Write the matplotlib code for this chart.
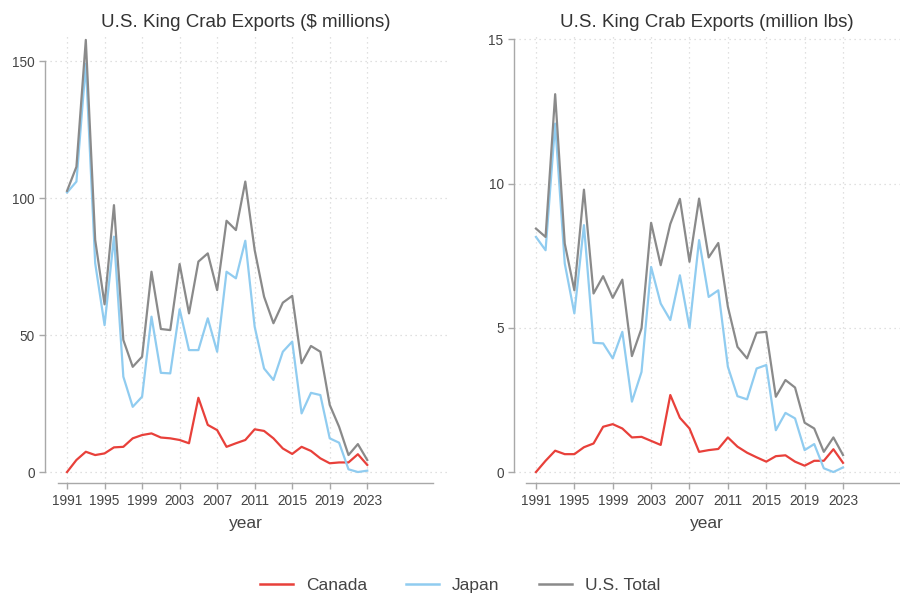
import matplotlib
matplotlib.use("Agg")
import matplotlib.pyplot as plt
from matplotlib.lines import Line2D

plt.rcParams['font.family'] = ['Liberation Sans', 'DejaVu Sans']

years = list(range(1991, 2024))

# Export values in $ millions
value_canada = [0, 4.4, 7.4, 6.2, 6.8, 9.0, 9.2, 12.3, 13.5, 14.1, 12.6, 12.3, 11.7,
                10.5, 27.1, 17.2, 15.3, 9.2, 10.5, 11.7, 15.6, 15.0, 12.3, 8.6, 6.6,
                9.2, 7.7, 5.0, 3.2, 3.5, 3.5, 6.5, 2.6]
value_japan = [102, 106, 149, 76.2, 53.6, 85.9, 34.8, 23.8, 27.5, 56.7, 36.2, 36.0, 59.4,
               44.5, 44.5, 56.1, 43.9, 73.1, 70.7, 84.4, 53.0, 37.8, 33.6, 43.9, 47.6,
               21.4, 28.9, 28.1, 12.3, 10.7, 1.0, 0.0, 0.5]
value_total = [102.6, 111.4, 157.7, 84.7, 61.2, 97.4, 48.2, 38.4, 42.1, 73.1, 52.2, 51.8,
               75.9, 57.9, 76.8, 79.8, 66.4, 91.7, 88.3, 106, 81, 64, 54.3, 61.8, 64.3,
               39.7, 46, 43.9, 24.5, 16.5, 6.2, 10.2, 4.4]

# Export volumes in million lbs
lbs_canada = [0, 0.39, 0.74, 0.62, 0.62, 0.86, 0.99, 1.57, 1.66, 1.51, 1.2, 1.22, 1.08,
              0.94, 2.67, 1.88, 1.51, 0.70, 0.76, 0.80, 1.2, 0.88, 0.67, 0.51, 0.36,
              0.55, 0.58, 0.36, 0.22, 0.39, 0.39, 0.79, 0.32]
lbs_japan = [8.15, 7.69, 12.08, 7.23, 5.5, 8.56, 4.48, 4.46, 3.94, 4.86, 2.44, 3.47, 7.11,
             5.84, 5.27, 6.82, 5.0, 8.04, 6.07, 6.3, 3.65, 2.63, 2.52, 3.59, 3.71,
             1.45, 2.05, 1.86, 0.76, 0.97, 0.13, 0.0, 0.16]
lbs_total = [8.44, 8.15, 13.1, 7.92, 6.3, 9.79, 6.19, 6.79, 6.04, 6.67, 4.02, 4.98, 8.64,
             7.17, 8.6, 9.47, 7.29, 9.48, 7.44, 7.94, 5.73, 4.34, 3.94, 4.83, 4.86,
             2.61, 3.19, 2.93, 1.71, 1.51, 0.70, 1.2, 0.59]

xticks = list(range(1991, 2024, 4))
series_names = ["Canada", "Japan", "U.S. Total"]
colors = ["#e8403a", "#90ccf0", "#8a8a8a"]
text_color = "#444444"
axis_color = "#a8a8a8"
grid_color = "#d6d6d6"

W, H = 900, 598
fig = plt.figure(figsize=(W / 100, H / 100), dpi=100)


def make_panel(rect, xlim, ylim, yticks, title, data):
    ax = fig.add_axes(rect)
    for vals, c in zip(data, colors):
        ax.plot(years, vals, color=c, lw=1.6, solid_joinstyle="round")
    ax.set_xlim(*xlim)
    ax.set_ylim(*ylim)
    ax.set_xticks(xticks)
    ax.set_yticks(yticks)
    ax.set_yticklabels([str(t) for t in yticks])
    ax.grid(True, ls=(0, (1, 3)), color=grid_color, lw=0.9)
    ax.set_axisbelow(True)
    for s in ("top", "right"):
        ax.spines[s].set_visible(False)
    ax.spines["left"].set_bounds(yticks[0], yticks[-1])
    ax.spines["bottom"].set_bounds(1990, 2030)
    for s in ("left", "bottom"):
        ax.spines[s].set_color(axis_color)
        ax.spines[s].set_linewidth(1.0)
    ax.tick_params(axis="both", colors=axis_color, labelcolor=text_color,
                   labelsize=9.8, length=4, width=1.0)
    ax.tick_params(axis="x", pad=4)
    ax.set_xlabel("year", fontsize=12.5, color=text_color, labelpad=6)
    ax.set_title(title, fontsize=13.5, color="#333333", pad=5)
    return ax


bottom = 1 - 483 / H
height = (483 - 33.6) / H

make_panel([45 / W, bottom, 402 / W, height], (1988.65, 2031.5), (-4.0, 160),
           [0, 50, 100, 150], "U.S. King Crab Exports ($ millions)",
           [value_canada, value_japan, value_total])

make_panel([514 / W, bottom, 386 / W, height], (1988.71, 2028.94), (-0.38, 15.2),
           [0, 5, 10, 15], "U.S. King Crab Exports (million lbs)",
           [lbs_canada, lbs_japan, lbs_total])

handles = [Line2D([], [], color=c, lw=1.8) for c in colors]
fig.legend(handles, series_names, loc="center", bbox_to_anchor=(0.511, 1 - 585 / H),
           ncol=3, frameon=False, fontsize=12.5, handlelength=1.9, handletextpad=0.75,
           columnspacing=2.25, labelcolor=text_color)

fig.savefig("out.png", dpi=100)
